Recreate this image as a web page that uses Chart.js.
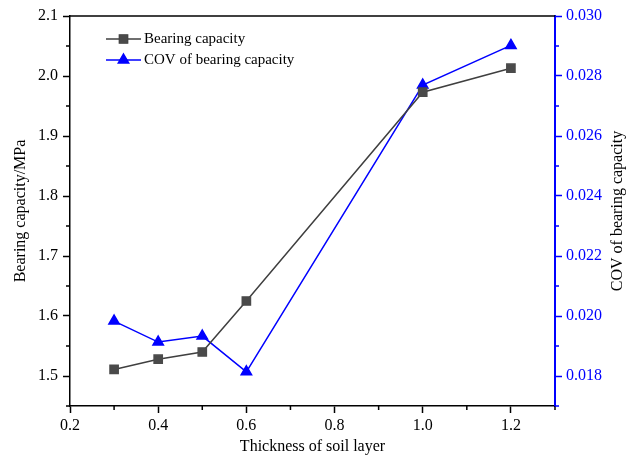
<!DOCTYPE html>
<html>
<head>
<meta charset="utf-8">
<script src="https://cdn.jsdelivr.net/npm/chart.js@4/dist/chart.umd.min.js"></script>
<style>
  html, body { margin: 0; padding: 0; background: #fff; }
  #wrap { width: 638px; height: 456px; }
</style>
</head>
<body>
<div id="wrap"><canvas id="chart" width="638" height="456"></canvas></div>
<script>
// data
const thickness = [0.3, 0.4, 0.5, 0.6, 1.0, 1.2];
const bearingCapacity = [1.511, 1.528, 1.540, 1.625, 1.973, 2.013];
const covBearing = [0.01983, 0.01913, 0.01933, 0.01814, 0.0277, 0.02902];

const xTicks = [0.2, 0.4, 0.6, 0.8, 1.0, 1.2];
const leftTicks = [1.5, 1.6, 1.7, 1.8, 1.9, 2.0, 2.1];
const rightTicks = [0.018, 0.020, 0.022, 0.024, 0.026, 0.028, 0.030];

const FONT = "'Liberation Serif', 'Times New Roman', serif";
const GREY = "#3f3f3f";
const BLUE = "#0000ff";

const toPoints = (ys) => thickness.map((x, i) => ({ x: x, y: ys[i] }));

// minor ticks, top border, right title (reads bottom-up) and the in-plot legend
const extras = {
    id: "extras",
    afterDraw(chart) {
        const ctx = chart.ctx;
        const area = chart.chartArea;
        const sx = chart.scales.x, sl = chart.scales.yL, sr = chart.scales.yR;
        ctx.save();
        ctx.lineWidth = 1.5;

        // top frame line
        ctx.strokeStyle = "#000";
        ctx.beginPath();
        ctx.moveTo(area.left, area.top);
        ctx.lineTo(area.right, area.top);
        ctx.stroke();

        // minor ticks
        ctx.beginPath();
        for (let i = 0; i < xTicks.length; i++) {
            const v = xTicks[i] + 0.1;
            if (v > sx.max + 1e-9) break;
            const px = sx.getPixelForValue(v);
            ctx.moveTo(px, area.bottom);
            ctx.lineTo(px, area.bottom + 4);
        }
        for (let i = 0; i < leftTicks.length; i++) {
            const v = leftTicks[i] - 0.05;
            const py = sl.getPixelForValue(v);
            if (py > area.bottom + 1) continue;
            ctx.moveTo(area.left, py);
            ctx.lineTo(area.left - 4, py);
        }
        ctx.stroke();

        ctx.strokeStyle = BLUE;
        ctx.beginPath();
        for (let i = 0; i < rightTicks.length; i++) {
            const v = rightTicks[i] - 0.001;
            const py = sr.getPixelForValue(v);
            if (py > area.bottom + 1) continue;
            ctx.moveTo(area.right, py);
            ctx.lineTo(area.right + 4, py);
        }
        ctx.stroke();

        // right axis title
        ctx.save();
        ctx.translate(618, (area.top + area.bottom) / 2);
        ctx.rotate(-Math.PI / 2);
        ctx.fillStyle = "#000";
        ctx.font = "16px " + FONT;
        ctx.textAlign = "center";
        ctx.textBaseline = "middle";
        ctx.fillText("COV of bearing capacity", 0, 0);
        ctx.restore();

        // legend
        const rows = [39, 60];
        chart.data.datasets.forEach((ds, i) => {
            const y = rows[i];
            ctx.strokeStyle = ds.borderColor;
            ctx.lineWidth = 1.5;
            ctx.beginPath();
            ctx.moveTo(106, y);
            ctx.lineTo(141, y);
            ctx.stroke();
            Chart.helpers.drawPoint(ctx, {
                pointStyle: ds.pointStyle,
                radius: ds.pointRadius,
                borderWidth: 1
            }, 123.5, y);
            ctx.fillStyle = ds.pointBackgroundColor;
            ctx.fill();
            ctx.fillStyle = "#000";
            ctx.font = "15px " + FONT;
            ctx.textBaseline = "middle";
            ctx.textAlign = "left";
            ctx.fillText(ds.label, 144, y);
        });
        ctx.restore();
    }
};

new Chart(document.getElementById("chart"), {
    type: "line",
    data: {
        datasets: [{
            label: "Bearing capacity",
            data: toPoints(bearingCapacity),
            yAxisID: "yL",
            borderColor: GREY,
            backgroundColor: GREY,
            pointBackgroundColor: "#4a4a4a",
            pointBorderColor: "#4a4a4a",
            pointStyle: "rect",
            pointRadius: 5.8,
            borderWidth: 1.5,
            tension: 0
        }, {
            label: "COV of bearing capacity",
            data: toPoints(covBearing),
            yAxisID: "yR",
            borderColor: BLUE,
            backgroundColor: BLUE,
            pointBackgroundColor: BLUE,
            pointBorderColor: BLUE,
            pointStyle: "triangle",
            pointRadius: 6,
            borderWidth: 1.5,
            tension: 0
        }]
    },
    options: {
        responsive: false,
        animation: false,
        layout: { padding: { top: 16, left: 0, right: 0, bottom: 0 } },
        plugins: {
            legend: { display: false },
            tooltip: { enabled: false }
        },
        scales: {
            x: {
                type: "linear",
                min: 0.2,
                max: 1.3,
                afterBuildTicks: (s) => { s.ticks = xTicks.map(v => ({ value: v })); },
                afterFit: (s) => { s.height = 50; },
                ticks: {
                    color: "#000",
                    font: { family: FONT, size: 16 },
                    padding: 3,
                    callback: (v) => v.toFixed(1)
                },
                grid: { drawOnChartArea: false, drawTicks: true, tickLength: 7, tickColor: "#000", tickWidth: 1.5 },
                border: { color: "#000", width: 1.5 },
                title: {
                    display: true,
                    text: "Thickness of soil layer",
                    color: "#000",
                    font: { family: FONT, size: 16 },
                    padding: { top: 0, bottom: 0 }
                }
            },
            yL: {
                type: "linear",
                position: "left",
                min: 1.45,
                max: 2.1,
                afterBuildTicks: (s) => { s.ticks = leftTicks.map(v => ({ value: v })); },
                afterFit: (s) => { s.width = 70; },
                ticks: {
                    color: "#000",
                    font: { family: FONT, size: 16 },
                    padding: 5,
                    callback: (v) => v.toFixed(1)
                },
                grid: { drawOnChartArea: false, drawTicks: true, tickLength: 7, tickColor: "#000", tickWidth: 1.5 },
                border: { color: "#000", width: 1.5 },
                title: {
                    display: true,
                    text: "Bearing capacity/MPa",
                    color: "#000",
                    font: { family: FONT, size: 16 },
                    padding: { top: 11, bottom: 0 }
                }
            },
            yR: {
                type: "linear",
                position: "right",
                min: 0.017,
                max: 0.030,
                afterBuildTicks: (s) => { s.ticks = rightTicks.map(v => ({ value: v })); },
                afterFit: (s) => { s.width = 83; },
                ticks: {
                    color: BLUE,
                    font: { family: FONT, size: 16 },
                    padding: 4,
                    callback: (v) => v.toFixed(3)
                },
                grid: { drawOnChartArea: false, drawTicks: true, tickLength: 7, tickColor: BLUE, tickWidth: 1.5 },
                border: { color: BLUE, width: 2 },
                title: { display: false }
            }
        }
    },
    plugins: [extras]
});
</script>
</body>
</html>
